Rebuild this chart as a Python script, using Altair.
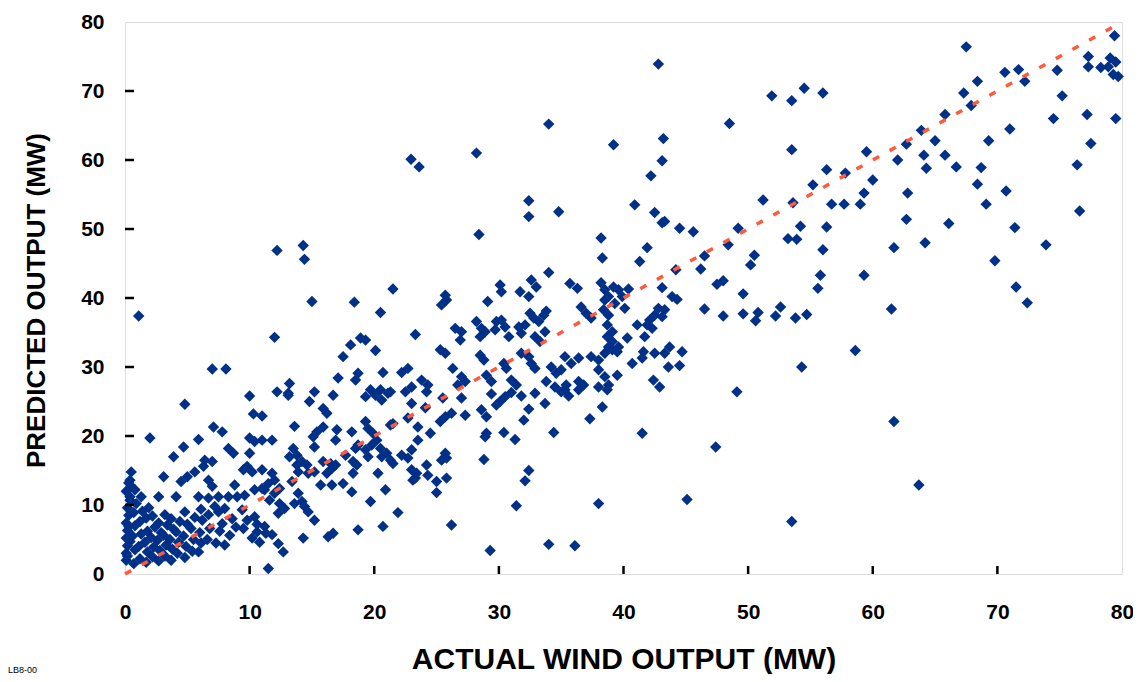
import altair as alt
import pandas as pd

FONT = "Liberation Sans"
tick_values = [0, 10, 20, 30, 40, 50, 60, 70, 80]
inner_ticks = [10, 20, 30, 40, 50, 60, 70]
diag_actual = [0, 80]
diag_predicted = [0, 80]

# (actual MW, predicted MW), grouped by region
upper_left = [(22.95, 60.1), (23.6, 59.0), (28.2, 61.0), (34.0, 65.2), (32.4, 54.1), (39.2, 62.2),
              (1.1, 37.4), (12.2, 46.9), (14.3, 47.6), (14.4, 45.6), (15.0, 39.5), (18.4, 39.4),
              (12.0, 34.3), (7.0, 29.7), (8.1, 29.7), (18.9, 34.2), (18.1, 33.2), (17.5, 31.5),
              (17.1, 28.4), (18.7, 29.1), (18.5, 28.1), (13.2, 27.6), (13.1, 26.2)]

upper_right = [(42.8, 73.9), (67.5, 76.4), (79.4, 78.0), (77.3, 75.0), (79.05, 74.8), (79.5, 74.2),
               (77.3, 73.5), (78.3, 73.4), (78.9, 73.5), (79.3, 72.4), (79.7, 72.1), (74.8, 73.0),
               (71.7, 73.1), (70.6, 72.7), (72.2, 71.4), (68.4, 71.4), (67.3, 69.7), (67.9, 67.9),
               (75.2, 69.3), (65.8, 66.6), (74.5, 66.0), (77.2, 66.6), (79.5, 66.0), (71.0, 64.5),
               (69.3, 62.8), (77.5, 62.4), (76.4, 59.3), (68.4, 56.5), (70.7, 55.5), (63.9, 64.3),
               (65.0, 62.8), (62.7, 62.3), (64.1, 60.7), (65.8, 60.7), (62.0, 60.0), (64.3, 58.8),
               (66.7, 59.0), (68.7, 58.9), (59.5, 61.2), (60.0, 57.1), (57.8, 58.1), (56.3, 58.6),
               (55.2, 56.4), (59.3, 55.2), (62.8, 55.2), (53.5, 61.5), (51.9, 69.3), (53.5, 68.6),
               (54.5, 70.4), (56.0, 69.7), (48.5, 65.3), (43.2, 63.1), (43.1, 59.9), (42.2, 57.7),
               (51.2, 54.2), (53.6, 53.8), (40.9, 53.5), (56.7, 53.6), (57.7, 53.6), (59.0, 53.6),
               (69.1, 53.6)]

middle_right = [(42.5, 52.4), (43.1, 50.9), (43.3, 51.1), (44.5, 50.1), (45.6, 49.6), (41.9, 47.3),
                (41.3, 45.3), (44.2, 44.1), (43.1, 41.5), (43.9, 40.2), (44.3, 39.8), (46.2, 44.2),
                (46.5, 46.1), (48.4, 47.7), (49.2, 50.1), (54.2, 50.4), (53.2, 48.6), (53.9, 48.5),
                (56.3, 50.3), (56.0, 47.0), (50.5, 46.2), (50.2, 44.8), (55.8, 43.3), (55.6, 41.4),
                (59.3, 43.3), (47.5, 42.0), (48.0, 42.5), (49.6, 40.6), (46.5, 38.4), (48.0, 37.4),
                (49.6, 37.7), (50.8, 37.9), (50.6, 36.7), (52.2, 37.4), (52.6, 38.7), (53.8, 37.1),
                (54.7, 37.6), (58.6, 32.4), (54.3, 30.0), (49.1, 26.4),
                (76.6, 52.6), (62.7, 51.4), (66.1, 50.8), (71.4, 50.2), (61.7, 47.3), (64.2, 48.0),
                (73.9, 47.7), (69.8, 45.4), (71.5, 41.6), (72.4, 39.3), (61.5, 38.4)]

band_40 = [(39.6, 41.2), (40.4, 41.3), (39.9, 40.2), (39.3, 39.2), (40.1, 38.5), (42.8, 38.5),
           (43.3, 38.3), (42.5, 37.5), (42.1, 36.8), (43.1, 37.3), (41.9, 36.1), (42.3, 35.6),
           (41.7, 34.4), (41.1, 36.1), (40.3, 34.2), (39.6, 32.9), (39.5, 32.2), (41.6, 32.2),
           (41.5, 31.3), (42.5, 32.0), (43.3, 32.0), (43.7, 32.9), (44.7, 32.2), (40.7, 30.5),
           (43.6, 30.0), (44.5, 30.2), (39.5, 28.8), (42.4, 28.1), (42.9, 27.1)]

band_30 = [(32.4, 51.8), (34.8, 52.5), (28.4, 49.2), (38.2, 48.7), (38.3, 45.8), (34.0, 43.7),
           (32.6, 42.6), (33.0, 41.6), (30.1, 41.9), (30.2, 40.9), (31.7, 40.9), (32.4, 40.2),
           (35.7, 42.1), (36.3, 41.4), (38.2, 42.2), (38.5, 41.2), (38.8, 40.2), (39.2, 41.6),
           (21.5, 41.3), (25.7, 40.4), (25.8, 39.7), (25.4, 39.0), (29.1, 39.5), (20.5, 37.9),
           (33.8, 38.1), (33.6, 37.5), (32.5, 37.8), (32.8, 37.1), (33.2, 36.6), (36.6, 38.7),
           (37.0, 37.8), (37.4, 37.1), (38.5, 39.7), (38.4, 38.3), (38.8, 37.5), (38.7, 36.1),
           (39.1, 35.1), (28.2, 36.6), (28.6, 35.6), (28.5, 34.4), (28.9, 35.1), (26.5, 35.6),
           (27.0, 35.1), (26.9, 33.9), (29.8, 36.6), (30.2, 36.8), (30.5, 35.8), (29.7, 35.4),
           (31.6, 35.8), (31.8, 34.9), (32.1, 36.1), (30.8, 34.4), (32.9, 34.4), (33.3, 33.7),
           (33.7, 35.1), (23.3, 34.7), (20.1, 32.4), (25.3, 32.5), (25.7, 32.0), (28.5, 31.7),
           (28.8, 31.0), (31.8, 32.0), (32.4, 31.5), (32.6, 30.5), (32.9, 29.8), (30.4, 30.5),
           (30.6, 29.8), (26.3, 29.8), (27.0, 28.6), (27.3, 27.9), (26.7, 27.4), (29.0, 28.8),
           (29.4, 27.9), (20.7, 29.2), (22.2, 29.2), (23.8, 28.1), (24.3, 27.4), (24.2, 26.4),
           (19.7, 26.7), (20.5, 26.7), (21.3, 26.4), (35.3, 31.5), (35.8, 30.5), (36.4, 31.3),
           (34.2, 30.0), (34.6, 29.1), (35.0, 29.6), (33.8, 27.9), (34.5, 27.1), (35.4, 27.4),
           (36.4, 27.9), (36.8, 27.4), (37.4, 31.5), (38.0, 31.0), (38.5, 32.0), (39.1, 32.5),
           (38.0, 29.6), (38.5, 28.6), (38.8, 27.4), (38.0, 27.1), (38.7, 34.4), (39.1, 33.7),
           (38.8, 32.9), (35.3, 26.7), (31.0, 28.1), (31.4, 27.4), (22.7, 29.8), (23.0, 27.1),
           (19.3, 33.9)]

band_20 = [(34.4, 20.5), (31.4, 9.9), (34.0, 4.3), (29.3, 3.4), (26.2, 7.1), (32.4, 15.0),
           (32.1, 13.5), (28.8, 16.6), (28.9, 19.9), (29.0, 20.4), (31.3, 19.5), (30.4, 20.5),
           (32.0, 22.3), (32.4, 23.9), (33.7, 24.7), (25.7, 17.5), (25.8, 16.8), (25.4, 16.5),
           (24.2, 15.8), (24.3, 14.3), (23.4, 14.6), (23.3, 13.9), (25.0, 13.4), (25.8, 13.9),
           (25.0, 11.8), (23.5, 19.4), (24.5, 20.4), (25.5, 25.5), (27.0, 25.5), (29.4, 26.1),
           (31.0, 26.3), (31.8, 25.8), (32.9, 26.2), (35.0, 26.4), (25.3, 22.1), (25.7, 22.8),
           (26.2, 23.3), (27.3, 23.0), (28.6, 23.8), (29.0, 22.8), (29.8, 24.5), (30.1, 25.0),
           (30.5, 25.7), (23.5, 21.3), (24.1, 24.1),
           (35.6, 25.8), (36.4, 26.7), (38.7, 26.7), (38.3, 24.2), (37.3, 22.5), (41.5, 20.4),
           (47.4, 18.4), (38.0, 10.2), (45.1, 10.8), (53.5, 7.6), (36.1, 4.1), (61.7, 22.1),
           (63.7, 12.9)]

band_15 = [(12.2, 26.4), (13.1, 25.9), (15.2, 26.4), (16.7, 25.9), (14.8, 25.0), (15.9, 24.0),
           (16.2, 23.3), (13.6, 21.4), (11.8, 19.4), (15.4, 20.6), (15.9, 21.3), (15.1, 19.9),
           (17.0, 20.9), (16.9, 19.4), (18.2, 20.6), (15.2, 18.4), (13.5, 18.2), (13.8, 17.2),
           (13.2, 17.0), (14.2, 16.3), (14.6, 15.8), (14.7, 14.6), (15.2, 14.8), (13.8, 15.8),
           (13.9, 14.8), (11.8, 14.6), (12.0, 13.6), (11.5, 13.1), (12.4, 12.4), (11.2, 12.2),
           (13.4, 13.4), (12.0, 11.7), (11.6, 10.7), (12.4, 10.2), (12.3, 8.8), (12.8, 9.5),
           (13.9, 11.7), (13.6, 10.2), (14.2, 10.5), (14.4, 9.8), (14.7, 9.0), (15.2, 7.8),
           (15.7, 12.9), (16.6, 12.9), (17.5, 13.1), (16.2, 14.6), (16.6, 15.3), (16.9, 15.8),
           (15.9, 16.3), (16.5, 16.0), (18.2, 11.9), (18.3, 16.3), (18.3, 14.6), (18.6, 15.8),
           (17.7, 17.2), (18.5, 18.2), (18.7, 18.7), (19.3, 22.1), (19.5, 21.1), (19.9, 20.4),
           (20.2, 19.4), (19.8, 18.7), (20.5, 18.2), (20.6, 17.0), (20.3, 14.6), (21.0, 17.5),
           (21.3, 16.5), (21.5, 16.0), (22.2, 17.2), (22.7, 16.8), (23.0, 18.0), (20.9, 12.2),
           (19.7, 10.5), (21.9, 8.9), (20.7, 6.9), (18.7, 6.4), (16.7, 5.9), (16.3, 5.4),
           (14.3, 5.2), (11.2, 6.9), (11.8, 5.7), (12.3, 4.4), (12.7, 3.2), (11.5, 0.8),
           (21.3, 21.6), (21.5, 21.8), (22.7, 22.6), (23.0, 15.1), (23.1, 13.6), (19.3, 25.7),
           (20.1, 25.9), (20.6, 25.2), (21.1, 26.2), (22.5, 26.4), (23.0, 24.7), (19.3, 18.0),
           (19.5, 17.0)]

band_5 = [(4.8, 24.6), (10.0, 25.8), (10.3, 23.2), (11.0, 22.9), (2.0, 19.7), (5.9, 19.5),
          (7.1, 21.3), (7.8, 20.6), (4.7, 18.4), (3.9, 17.0), (8.3, 18.2), (8.7, 17.5),
          (10.0, 19.7), (10.4, 19.2), (11.0, 19.4), (10.0, 17.5), (6.4, 16.5), (7.0, 16.3),
          (6.3, 15.6), (5.6, 14.8), (5.0, 14.1), (4.5, 13.4), (3.1, 14.1), (0.5, 14.8),
          (0.4, 13.6), (0.5, 12.7), (0.8, 12.2), (6.7, 13.6), (7.0, 12.7), (9.5, 15.1),
          (9.8, 15.6), (10.2, 14.8), (11.0, 15.1), (8.8, 12.9), (2.7, 11.2), (4.1, 11.2),
          (0.4, 11.2), (1.3, 11.2), (5.9, 11.2), (6.7, 11.0), (7.5, 11.2), (8.3, 11.2),
          (9.0, 11.2), (9.6, 11.4), (10.4, 12.2), (11.0, 12.4), (7.2, 9.8), (8.0, 9.5),
          (7.5, 9.0), (9.4, 9.3), (9.8, 7.8), (9.5, 6.6), (10.4, 8.3), (10.6, 6.1),
          (8.0, 4.2), (5.9, 3.2)]

low_cluster = [(0.1, 2.0), (0.1, 3.0), (0.2, 4.1), (0.1, 5.2), (0.2, 6.3), (0.1, 7.4), (0.3, 8.5),
               (0.2, 9.6), (0.4, 10.7), (0.1, 12.0), (0.3, 13.2), (0.2, 2.6), (0.4, 4.7), (0.3, 6.9),
               (0.7, 1.5), (0.8, 3.5), (0.6, 5.5), (0.8, 7.0), (0.7, 8.9), (0.9, 10.2),
               (1.2, 2.2), (1.1, 4.0), (1.3, 5.8), (1.2, 7.6), (1.4, 9.1),
               (1.7, 1.7), (1.8, 3.2), (1.6, 4.6), (1.8, 6.2), (1.7, 8.1), (1.9, 9.6),
               (2.2, 2.5), (2.3, 3.9), (2.1, 5.3), (2.4, 6.8), (2.2, 8.4),
               (2.7, 1.9), (2.8, 3.4), (2.6, 4.9), (2.9, 6.0), (2.7, 7.4),
               (3.2, 2.6), (3.3, 4.2), (3.1, 5.6), (3.4, 7.1), (3.2, 8.6),
               (3.7, 2.0), (3.8, 3.6), (3.6, 5.0), (3.9, 6.5), (3.7, 8.0),
               (4.2, 3.0), (4.3, 4.6), (4.1, 6.1), (4.4, 7.6),
               (4.8, 2.4), (4.9, 4.0), (4.7, 5.5), (5.0, 7.2), (4.8, 9.0),
               (5.4, 3.3), (5.5, 5.0), (5.3, 6.6), (5.6, 8.2),
               (6.1, 4.5), (6.0, 6.0), (6.2, 7.8), (6.1, 9.4),
               (6.6, 5.0), (6.8, 6.6), (6.7, 8.6), (7.3, 4.5), (7.6, 6.2), (7.8, 7.3),
               (8.4, 5.6), (8.9, 6.8), (8.6, 8.0), (10.2, 5.2), (10.8, 4.6), (11.3, 5.9),
               (10.6, 7.2)]

all_points = (upper_left + upper_right + middle_right + band_40 + band_30 + band_20
              + band_15 + band_5 + low_cluster)
df = pd.DataFrame(all_points, columns=["actual", "predicted"])
diag = pd.DataFrame({"actual": diag_actual, "predicted": diag_predicted})
xt = pd.DataFrame({"actual": inner_ticks})
yt = pd.DataFrame({"predicted": inner_ticks})
note = pd.DataFrame({"t": ["LB8-00"]})

W, H = 997, 552
xscale = alt.Scale(domain=[0, 80], nice=False, zero=False)
yscale = alt.Scale(domain=[0, 80], nice=False, zero=False)

xaxis = alt.Axis(values=tick_values, title="ACTUAL WIND OUTPUT (MW)", domain=False, ticks=False,
                 tickSize=0, grid=False, labelFlush=False, labelFont=FONT, labelFontSize=21,
                 labelFontWeight="bold", labelColor="black", labelPadding=27,
                 titleFont=FONT, titleFontSize=30, titleFontWeight="bold", titleColor="black",
                 titleX=W / 2, titleY=94, titleBaseline="alphabetic", titleAlign="center")
yaxis = alt.Axis(values=tick_values, title="PREDICTED OUTPUT (MW)", domain=False, ticks=False,
                 tickSize=0, grid=False, labelFlush=False, labelFont=FONT, labelFontSize=21,
                 labelFontWeight="bold", labelColor="black", labelPadding=21,
                 titleFont=FONT, titleFontSize=26, titleFontWeight="bold", titleColor="black",
                 titleAngle=270, titleX=-81, titleY=H / 2 + 2, titleBaseline="alphabetic",
                 titleAlign="center")

X = alt.X("actual:Q", scale=xscale, axis=xaxis)
Y = alt.Y("predicted:Q", scale=yscale, axis=yaxis)

points = alt.Chart(df).mark_point(shape="diamond", filled=True, size=130, opacity=1,
                                  color="#003087").encode(x=X, y=Y)
line = alt.Chart(diag).mark_line(color="#FF5A3C", strokeWidth=3.5,
                                 strokeDash=[7, 12]).encode(x=X, y=Y)
xticks = alt.Chart(xt).mark_rule(color="black", strokeWidth=2.5).encode(
    x=X, y=alt.value(H), y2=alt.value(H - 8))
yticks = alt.Chart(yt).mark_rule(color="black", strokeWidth=2.5).encode(
    y=Y, x=alt.value(0), x2=alt.value(9))
label = alt.Chart(note).mark_text(font=FONT, fontSize=9, align="left", baseline="alphabetic",
                                  color="black").encode(text="t:N", x=alt.value(-117),
                                                        y=alt.value(651))

chart = alt.layer(points, line, xticks, yticks, label).properties(
    width=W, height=H,
    autosize=alt.AutoSizeParams(type="none"),
    padding={"left": 117, "top": 14, "right": 11, "bottom": 100},
).configure_view(stroke="black", strokeWidth=2.5).configure(background="white")

chart.save("out.html", embed_options={"renderer": "svg", "actions": False})
